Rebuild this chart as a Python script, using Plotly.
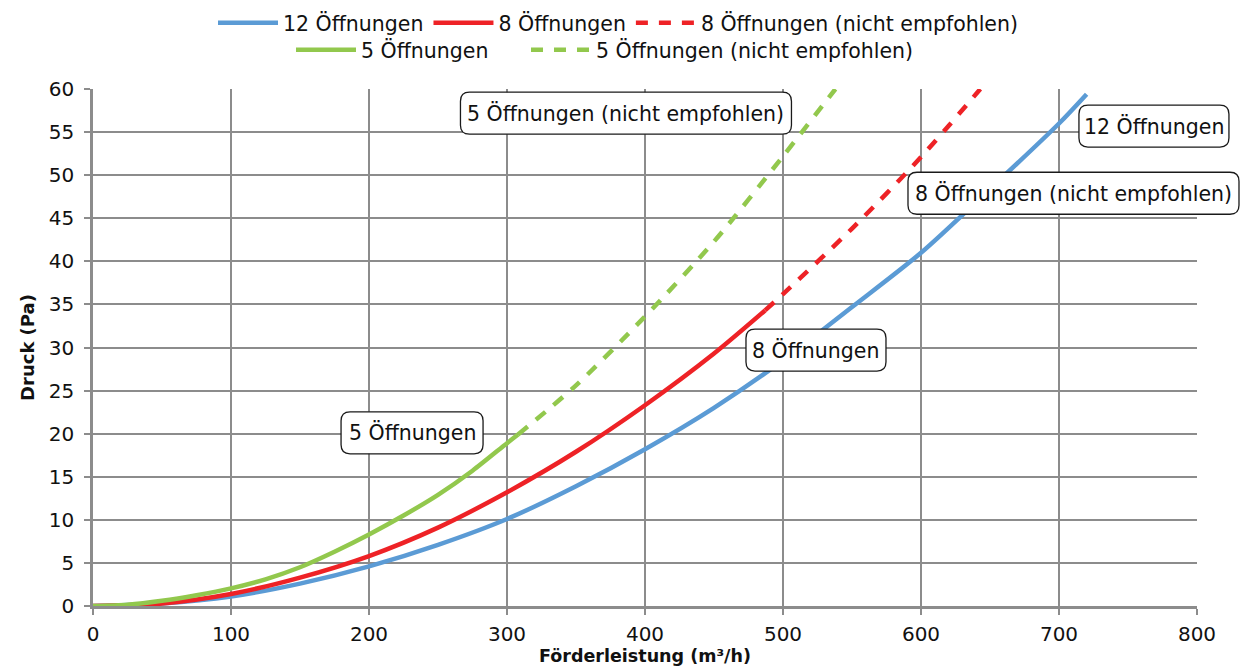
import plotly.graph_objects as go

# Förderleistung (m³/h) vs. Druck (Pa) for the different numbers of openings
q12 = [0, 50, 100, 150, 200, 250, 300, 350, 400, 450, 500, 550, 600, 650, 700, 720]
p12 = [0, 0.3, 1.1, 2.6, 4.6, 7.1, 10.1, 13.9, 18.2, 23.0, 28.5, 34.7, 41.0, 48.4, 56.0, 59.4]

q8 = [0, 50, 100, 150, 200, 250, 300, 350, 400, 450, 487]
p8 = [0, 0.3, 1.4, 3.3, 5.8, 9.1, 13.2, 17.9, 23.3, 29.3, 34.3]

q8_ext = [487, 500, 550, 600, 643]
p8_ext = [34.3, 36.2, 43.8, 52.1, 60.0]

q5 = [0, 25, 50, 75, 100, 125, 150, 175, 200, 225, 250, 275, 300, 308]
p5 = [0, 0.15, 0.6, 1.25, 2.05, 3.1, 4.5, 6.3, 8.3, 10.5, 12.9, 15.7, 18.9, 19.9]

q5_ext = [308, 350, 400, 450, 500, 538]
p5_ext = [19.9, 25.6, 33.6, 42.3, 52.2, 60.0]

x_ticks = [0, 100, 200, 300, 400, 500, 600, 700, 800]
y_ticks = [0, 5, 10, 15, 20, 25, 30, 35, 40, 45, 50, 55, 60]

# callout labels (text, x, y) in data units, with box width in px
labels = ["5 Öffnungen (nicht empfohlen)", "12 Öffnungen",
          "8 Öffnungen (nicht empfohlen)", "8 Öffnungen", "5 Öffnungen"]
label_x = [386.2, 768.8, 710.5, 523.9, 231.2]
label_y = [57.2, 55.7, 47.9, 29.7, 20.1]
box_w = [331, 150, 331, 140, 142]
BOX_H = 42

BLUE = "#5B9BD5"
RED = "#EE2226"
GREEN = "#92C84D"
GRID = "#8C8C8C"
FONT = "DejaVu Sans"
X_RANGE = [0, 800]
Y_RANGE = [0, 60]

fig = go.Figure()

line_w = 4.5
dash = "12px,11px"


def curve(x, y, name, color, legend, dashed=False):
    line = dict(color=color, width=line_w, shape="spline", smoothing=0.8)
    if dashed:
        line["dash"] = dash
    return go.Scatter(x=x, y=y, mode="lines", name=name, line=line, legend=legend)


fig.add_trace(curve(q12, p12, "12 Öffnungen", BLUE, "legend"))
fig.add_trace(curve(q8, p8, "8 Öffnungen", RED, "legend"))
fig.add_trace(curve(q8_ext, p8_ext, "8 Öffnungen (nicht empfohlen)", RED, "legend", True))
fig.add_trace(curve(q5, p5, "5 Öffnungen", GREEN, "legend2"))
fig.add_trace(curve(q5_ext, p5_ext, "5 Öffnungen (nicht empfohlen)", GREEN, "legend3", True))


def rounded_rect(w, h, r):
    x0, x1 = -w / 2, w / 2
    y0, y1 = -h / 2, h / 2
    return (f"M{x0 + r},{y0} L{x1 - r},{y0} Q{x1},{y0} {x1},{y0 + r} "
            f"L{x1},{y1 - r} Q{x1},{y1} {x1 - r},{y1} L{x0 + r},{y1} "
            f"Q{x0},{y1} {x0},{y1 - r} L{x0},{y0 + r} Q{x0},{y0} {x0 + r},{y0} Z")


shapes = []
annotations = []
for text, lx, ly, w in zip(labels, label_x, label_y, box_w):
    px = (lx - X_RANGE[0]) / (X_RANGE[1] - X_RANGE[0])
    py = (ly - Y_RANGE[0]) / (Y_RANGE[1] - Y_RANGE[0])
    shapes.append(dict(type="path", xref="paper", yref="paper",
                       xsizemode="pixel", ysizemode="pixel",
                       xanchor=px, yanchor=py, path=rounded_rect(w, BOX_H, 9),
                       fillcolor="white", line=dict(color="#1a1a1a", width=1.3),
                       layer="above"))
    annotations.append(dict(x=lx, y=ly, xref="x", yref="y", text=text,
                            showarrow=False, xanchor="center", yanchor="middle",
                            font=dict(family=FONT, size=20.5, color="#111")))

legend_common = dict(orientation="h", xref="container", yref="container",
                     xanchor="left", yanchor="middle", bgcolor="rgba(0,0,0,0)",
                     font=dict(family=FONT, size=20.5, color="#111"),
                     itemwidth=60)

fig.update_layout(
    width=1246, height=668,
    margin=dict(l=93, r=49, t=89, b=62, autoexpand=False),
    paper_bgcolor="white", plot_bgcolor="white",
    font=dict(family=FONT, color="#111"),
    showlegend=True,
    legend=dict(**legend_common, x=213 / 1246, y=1 - 23 / 668),
    legend2=dict(**legend_common, x=291 / 1246, y=1 - 50 / 668),
    legend3=dict(**legend_common, x=526 / 1246, y=1 - 50 / 668),
    shapes=shapes,
    annotations=annotations,
    xaxis=dict(range=X_RANGE, tickvals=x_ticks, showgrid=True, gridcolor=GRID,
               gridwidth=2, zeroline=False, showline=True, linecolor=GRID,
               linewidth=2.5, ticks="outside", ticklen=6, tickwidth=2,
               tickcolor=GRID, ticklabelstandoff=2, automargin=False,
               tickfont=dict(family=FONT, size=20, color="#111"),
               title=dict(text="<b>Förderleistung (m³/h)</b>", standoff=0,
                          font=dict(family=FONT, size=17.5, color="#111"))),
    yaxis=dict(range=Y_RANGE, tickvals=y_ticks, showgrid=True, gridcolor=GRID,
               gridwidth=2, zeroline=False, showline=True, linecolor=GRID,
               linewidth=2.5, ticks="outside", ticklen=6, tickwidth=2,
               tickcolor=GRID, ticklabelstandoff=6, automargin=False,
               tickfont=dict(family=FONT, size=20, color="#111"),
               title=dict(text="<b>Druck (Pa)</b>", standoff=10,
                          font=dict(family=FONT, size=18, color="#111"))),
)

fig.write_html("out.html")
